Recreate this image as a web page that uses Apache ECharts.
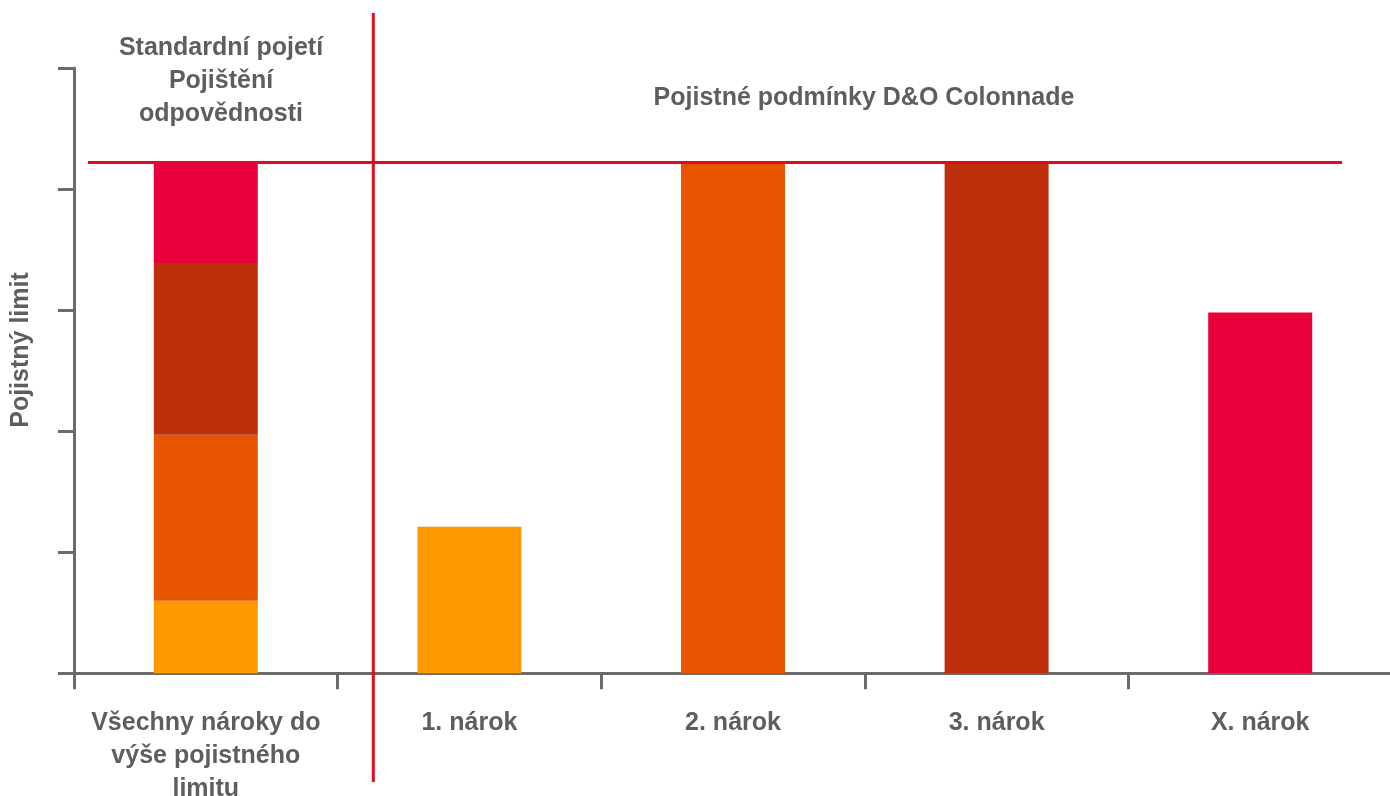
<!DOCTYPE html>
<html>
<head>
<meta charset="utf-8">
<script src="https://cdn.jsdelivr.net/npm/echarts@6/dist/echarts.min.js"></script>
<style>
html,body{margin:0;padding:0;background:#fff;}
#c{width:1390px;height:796px;}
</style>
</head>
<body>
<div id="c"></div>
<script>
// ---- data ----
const categories = ['Všechny nároky do\nvýše pojistného\nlimitu', '1. nárok', '2. nárok', '3. nárok', 'X. nárok'];
const claim1 = [0.6, 1.21, '-', '-', '-'];
const claim2 = [1.37, '-', 4.22, '-', '-'];
const claim3 = [1.42, '-', '-', 4.22, '-'];
const claimX = [0.83, '-', '-', '-', 2.98];
const limitValue = 4.22;
const yTicks = [0, 1, 2, 3, 4, 5];
const groupLeftTitle = 'Standardní pojetí\nPojištění\nodpovědnosti';
const groupRightTitle = 'Pojistné podmínky D&O Colonnade';
const yTitle = 'Pojistný limit';

const FONT = '"Liberation Sans", Arial, Helvetica, sans-serif';
const TXT = '#5e5e5e';
const AX = '#6b6b6b';
const RED = '#e30a1e';
const colors = ['#ff9900', '#e85500', '#be300c', '#e8003c'];

const chart = echarts.init(document.getElementById('c'), null, {renderer: 'canvas'});

function barSeries(name, data, color) {
  return {
    name: name, type: 'bar', stack: 'total', data: data,
    barWidth: 104, itemStyle: {color: color}, z: 2,
    emphasis: {disabled: true}
  };
}

chart.setOption({
  animation: false,
  backgroundColor: '#ffffff',
  grid: {left: 74, top: 68, width: 1318, height: 605.3, containLabel: false, outerBoundsMode: 'none'},
  xAxis: {
    type: 'category',
    data: categories,
    axisLine: {show: true, lineStyle: {color: AX, width: 3}},
    axisTick: {show: true, length: 16, alignWithLabel: false, lineStyle: {color: AX, width: 3}},
    axisLabel: {
      interval: 0, margin: 33, color: TXT, fontSize: 25, fontWeight: 'bold',
      fontFamily: FONT, lineHeight: 33, align: 'center'
    },
    splitLine: {show: false}
  },
  yAxis: {
    type: 'value',
    min: yTicks[0], max: yTicks[yTicks.length - 1], interval: 1,
    axisLine: {show: true, lineStyle: {color: AX, width: 3}},
    axisTick: {show: true, length: 16, lineStyle: {color: AX, width: 3}},
    axisLabel: {show: false},
    splitLine: {show: false}
  },
  series: [
    barSeries('1. nárok', claim1, colors[0]),
    barSeries('2. nárok', claim2, colors[1]),
    barSeries('3. nárok', claim3, colors[2]),
    barSeries('X. nárok', claimX, colors[3])
  ]
});

const limitY = chart.convertToPixel({yAxisIndex: 0}, limitValue);

chart.setOption({
  graphic: [
    {type: 'line', z: 100, shape: {x1: 88, y1: limitY, x2: 1342, y2: limitY},
     style: {stroke: RED, lineWidth: 3}},
    {type: 'line', z: 100, shape: {x1: 373.3, y1: 13, x2: 373.3, y2: 782},
     style: {stroke: RED, lineWidth: 3}},
    {type: 'text', z: 100, x: 221, y: 81,
     style: {text: groupLeftTitle, fill: TXT, font: 'bold 25px ' + FONT,
             textAlign: 'center', textVerticalAlign: 'middle', lineHeight: 33}},
    {type: 'text', z: 100, x: 864, y: 98,
     style: {text: groupRightTitle, fill: TXT, font: 'bold 25px ' + FONT,
             textAlign: 'center', textVerticalAlign: 'middle'}},
    {type: 'text', z: 100, x: 21, y: 350, rotation: Math.PI / 2,
     style: {text: yTitle, fill: TXT, font: 'bold 25px ' + FONT,
             textAlign: 'center', textVerticalAlign: 'middle'}}
  ]
});
</script>
</body>
</html>
